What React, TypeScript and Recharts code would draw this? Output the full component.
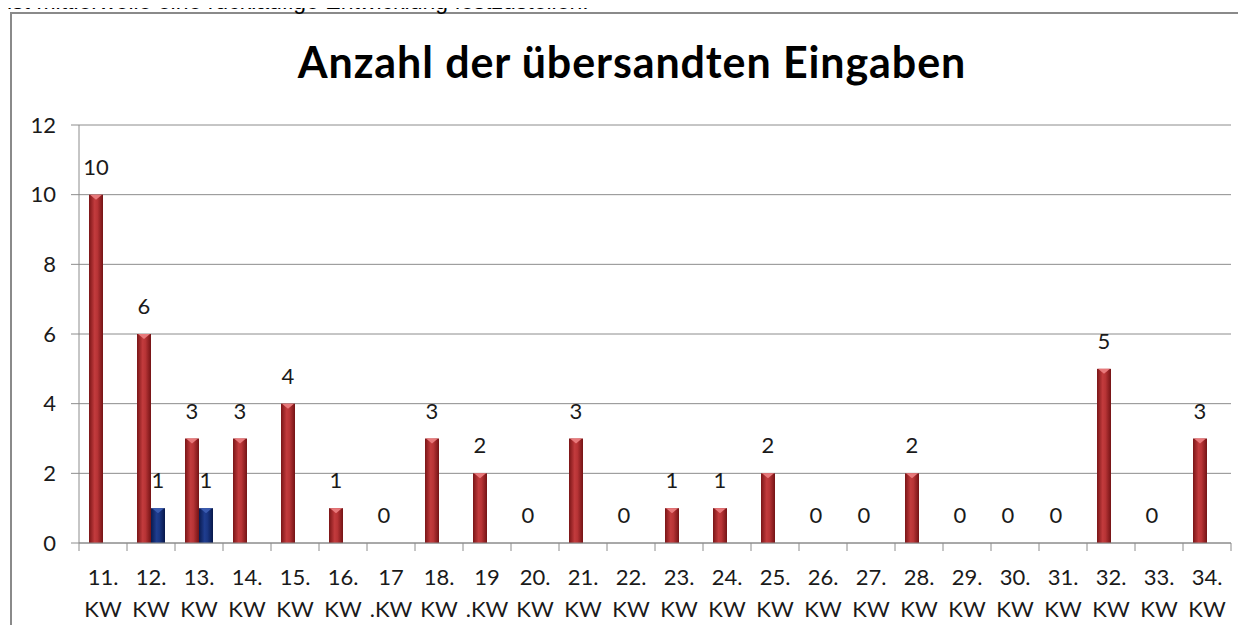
import React from 'react';
import { BarChart, Bar, XAxis, YAxis, CartesianGrid, LabelList } from 'recharts';

const weeks = [
  '11.\nKW', '12.\nKW', '13.\nKW', '14.\nKW', '15.\nKW', '16.\nKW', '17\n.KW', '18.\nKW',
  '19\n.KW', '20.\nKW', '21.\nKW', '22.\nKW', '23.\nKW', '24.\nKW', '25.\nKW', '26.\nKW',
  '27.\nKW', '28.\nKW', '29.\nKW', '30.\nKW', '31.\nKW', '32.\nKW', '33.\nKW', '34.\nKW',
];
const redValues = [10, 6, 3, 3, 4, 1, 0, 3, 2, 0, 3, 0, 1, 1, 2, 0, 0, 2, 0, 0, 0, 5, 0, 3];
const blueValues: (number | null)[] = [
  null, 1, 1, null, null, null, null, null, null, null, null, null,
  null, null, null, null, null, null, null, null, null, null, null, null,
];
const yTicks = [0, 2, 4, 6, 8, 10, 12];

const title = 'Anzahl der übersandten Eingaben';
const sentence = 'ist mittlerweile eine rückläufige Entwicklung festzustellen.';

const data = weeks.map((w, i) => ({ week: w, red: redValues[i], blue: blueValues[i] }));

const FONT = 'Lato, "Open Sans", sans-serif';
const GRID = '#8c8c8c';
const TXT = '#1a1a1a';

const Cylinder = (gradId: string, cap: string) => (props: any) => {
  const { x, y, width, height } = props;
  if (height == null || height <= 0 || width <= 0) return null;
  const capH = Math.min(5, height);
  return (
    <g>
      <rect x={x} y={y} width={width} height={height} fill={`url(#${gradId})`} />
      <polygon
        points={`${x + 1},${y} ${x + width - 1},${y} ${x + width / 2},${y + capH}`}
        fill={cap}
      />
    </g>
  );
};

const ValueLabel = (props: any) => {
  const { x, y, width, value } = props;
  if (value == null) return null;
  return (
    <text x={x + width / 2} y={y - 20} textAnchor="middle" fontSize={22} fontFamily={FONT} fill={TXT}>
      {value}
    </text>
  );
};

const WeekTick = (props: any) => {
  const { x, y, payload, index, visibleTicksCount } = props;
  const half = payload?.offset || 24;
  const [l1, l2] = String(payload.value).split('\n');
  return (
    <g>
      <line x1={x - half} x2={x - half} y1={y} y2={y + 8} stroke={GRID} />
      {index === visibleTicksCount - 1 && (
        <line x1={x + half} x2={x + half} y1={y} y2={y + 8} stroke={GRID} />
      )}
      <text x={x} y={y + 42} textAnchor="middle" fontSize={22} fontFamily={FONT} fill={TXT}>
        {l1}
      </text>
      <text x={x} y={y + 74} textAnchor="middle" fontSize={22} fontFamily={FONT} fill={TXT}>
        {l2}
      </text>
    </g>
  );
};

export default function App() {
  return (
    <div style={{ position: 'relative', margin: -8, width: 1246, height: 633, overflow: 'hidden', background: '#fff' }}>
      <div
        style={{
          position: 'absolute', left: 10, top: 12, width: 1260, height: 700,
          border: '2px solid #8a8a8a', boxSizing: 'border-box',
        }}
      />
      <svg style={{ position: 'absolute', left: 0, top: 0, overflow: 'visible' }} width={1246} height={633}>
        <text x={7} y={9} fontSize={23} fontFamily='"Liberation Sans", Arial, sans-serif' fill="#000">
          {sentence}
        </text>
        <text x={632} y={78} textAnchor="middle" fontSize={43} fontWeight={700} letterSpacing={0.9} fontFamily={FONT} fill="#000">
          {title}
        </text>
      </svg>
      <div style={{ position: 'absolute', left: 0, top: 0 }}>
        <BarChart
          width={1246}
          height={633}
          data={data}
          margin={{ top: 125, right: 15, bottom: 0, left: 0 }}
          barCategoryGap={10}
          barGap={0}
        >
          <defs>
            <linearGradient id="redCyl" x1="0" y1="0" x2="1" y2="0">
              <stop offset="0%" stopColor="#7a1517" />
              <stop offset="40%" stopColor="#c23b3d" />
              <stop offset="60%" stopColor="#b83436" />
              <stop offset="100%" stopColor="#741315" />
            </linearGradient>
            <linearGradient id="blueCyl" x1="0" y1="0" x2="1" y2="0">
              <stop offset="0%" stopColor="#0a1b50" />
              <stop offset="40%" stopColor="#1f3d8f" />
              <stop offset="60%" stopColor="#1a3683" />
              <stop offset="100%" stopColor="#08184a" />
            </linearGradient>
          </defs>
          <CartesianGrid vertical={false} stroke={GRID} strokeWidth={1} />
          <XAxis
            dataKey="week"
            interval={0}
            height={90}
            axisLine={{ stroke: GRID }}
            tickLine={false}
            tickSize={0}
            tickMargin={0}
            tick={<WeekTick />}
          />
          <YAxis
            domain={[0, 12]}
            ticks={yTicks}
            width={79}
            axisLine={{ stroke: GRID }}
            tickLine={{ stroke: GRID }}
            tickSize={8}
            tickMargin={15}
            tick={{ fontSize: 22, fontFamily: FONT, fill: TXT }}
          />
          <Bar dataKey="red" isAnimationActive={false} shape={Cylinder('redCyl', '#e8797b')}>
            <LabelList dataKey="red" content={<ValueLabel />} />
          </Bar>
          <Bar dataKey="blue" isAnimationActive={false} shape={Cylinder('blueCyl', '#3a5bb0')}>
            <LabelList dataKey="blue" content={<ValueLabel />} />
          </Bar>
        </BarChart>
      </div>
    </div>
  );
}
